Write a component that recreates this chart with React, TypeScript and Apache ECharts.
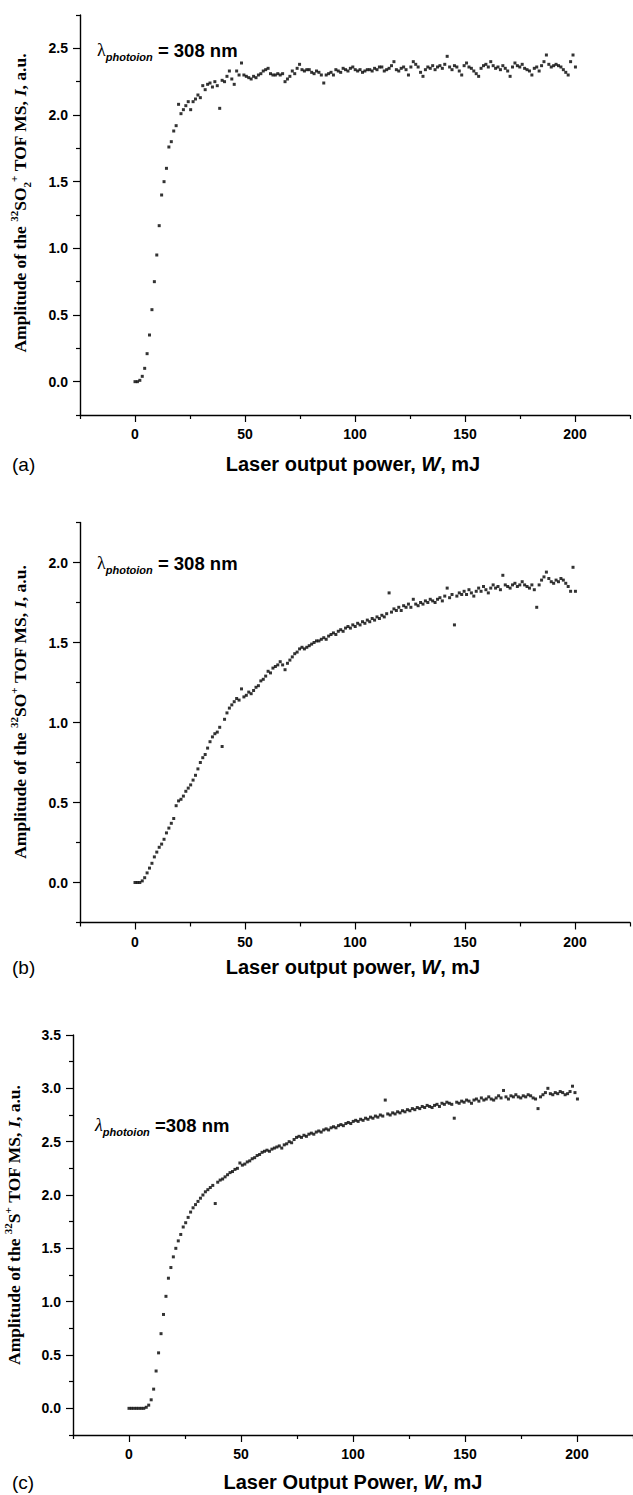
import React, { useEffect, useRef } from "react";
import * as echarts from "echarts";

// Laser output power step between successive measurements (mJ)
const W_STEP = 1.1;

// (a) amplitude of the 32SO2+ TOF MS signal, a.u.
const so2Amp = [
  0.00, 0.00, 0.01, 0.04, 0.10, 0.21, 0.35, 0.54, 0.75, 0.95,
  1.17, 1.40, 1.50, 1.60, 1.76, 1.80, 1.88, 1.92, 2.08, 2.01,
  2.04, 2.07, 2.10, 2.04, 2.10, 2.12, 2.15, 2.13, 2.22, 2.19,
  2.23, 2.24, 2.21, 2.25, 2.22, 2.05, 2.26, 2.25, 2.29, 2.33,
  2.27, 2.23, 2.33, 2.30, 2.39, 2.30, 2.29, 2.28, 2.27, 2.29,
  2.28, 2.30, 2.31, 2.33, 2.34, 2.35, 2.31, 2.30, 2.30, 2.31,
  2.30, 2.31, 2.25, 2.27, 2.29, 2.33, 2.31, 2.35, 2.38, 2.34,
  2.33, 2.34, 2.34, 2.32, 2.31, 2.33, 2.32, 2.30, 2.24, 2.30,
  2.31, 2.32, 2.30, 2.34, 2.33, 2.32, 2.35, 2.34, 2.33, 2.35,
  2.36, 2.34, 2.33, 2.34, 2.32, 2.33, 2.34, 2.34, 2.33, 2.35,
  2.34, 2.36, 2.36, 2.33, 2.34, 2.35, 2.37, 2.40, 2.34, 2.33,
  2.35, 2.36, 2.34, 2.30, 2.36, 2.40, 2.38, 2.36, 2.32, 2.29,
  2.34, 2.36, 2.35, 2.37, 2.34, 2.36, 2.37, 2.35, 2.38, 2.44,
  2.36, 2.34, 2.37, 2.36, 2.33, 2.30, 2.37, 2.39, 2.36, 2.35,
  2.33, 2.31, 2.29, 2.35, 2.37, 2.38, 2.36, 2.40, 2.37, 2.35,
  2.36, 2.34, 2.37, 2.35, 2.33, 2.29, 2.36, 2.39, 2.37, 2.36,
  2.38, 2.35, 2.34, 2.33, 2.30, 2.35, 2.36, 2.33, 2.37, 2.40,
  2.45, 2.38, 2.36, 2.37, 2.38, 2.37, 2.36, 2.34, 2.32, 2.30,
  2.40, 2.45, 2.36,
];

// (b) amplitude of the 32SO+ TOF MS signal, a.u.
const soAmp = [
  0.00, 0.00, 0.00, 0.01, 0.03, 0.06, 0.09, 0.12, 0.16, 0.19,
  0.22, 0.24, 0.27, 0.31, 0.34, 0.37, 0.40, 0.48, 0.51, 0.52,
  0.54, 0.57, 0.59, 0.61, 0.64, 0.67, 0.71, 0.75, 0.78, 0.80,
  0.84, 0.88, 0.91, 0.93, 0.94, 0.97, 0.85, 1.02, 1.06, 1.09,
  1.11, 1.13, 1.15, 1.14, 1.21, 1.16, 1.17, 1.19, 1.18, 1.20,
  1.22, 1.23, 1.26, 1.27, 1.29, 1.32, 1.31, 1.34, 1.35, 1.36,
  1.38, 1.36, 1.33, 1.37, 1.39, 1.41, 1.43, 1.44, 1.46, 1.47,
  1.46, 1.47, 1.48, 1.49, 1.50, 1.51, 1.51, 1.52, 1.53, 1.52,
  1.54, 1.55, 1.56, 1.55, 1.57, 1.58, 1.57, 1.59, 1.60, 1.59,
  1.61, 1.60, 1.62, 1.61, 1.63, 1.62, 1.64, 1.63, 1.65, 1.64,
  1.66, 1.65, 1.67, 1.66, 1.68, 1.81, 1.69, 1.71, 1.70, 1.72,
  1.70, 1.73, 1.72, 1.74, 1.72, 1.77, 1.74, 1.73, 1.75, 1.74,
  1.76, 1.75, 1.77, 1.76, 1.75, 1.77, 1.78, 1.76, 1.79, 1.84,
  1.78, 1.80, 1.61, 1.79, 1.81, 1.80, 1.82, 1.80, 1.83, 1.81,
  1.79, 1.82, 1.84, 1.82, 1.85, 1.83, 1.81, 1.84, 1.86, 1.84,
  1.85, 1.83, 1.92, 1.86, 1.85, 1.84, 1.86, 1.87, 1.85, 1.86,
  1.88, 1.86, 1.85, 1.84, 1.86, 1.83, 1.72, 1.86, 1.89, 1.91,
  1.94, 1.90, 1.88, 1.87, 1.89, 1.88, 1.90, 1.89, 1.87, 1.85,
  1.82, 1.97, 1.82,
];

// (c) amplitude of the 32S+ TOF MS signal, a.u.
const sAmp = [
  0.00, 0.00, 0.00, 0.00, 0.00, 0.00, 0.00, 0.01, 0.03, 0.08,
  0.18, 0.35, 0.52, 0.70, 0.88, 1.05, 1.22, 1.32, 1.42, 1.50,
  1.57, 1.63, 1.70, 1.74, 1.79, 1.84, 1.88, 1.91, 1.94, 1.97,
  2.00, 2.03, 2.05, 2.07, 2.09, 1.92, 2.12, 2.14, 2.15, 2.17,
  2.19, 2.21, 2.22, 2.24, 2.25, 2.30, 2.28, 2.29, 2.31, 2.32,
  2.34, 2.35, 2.37, 2.38, 2.40, 2.41, 2.42, 2.41, 2.43, 2.44,
  2.45, 2.46, 2.44, 2.47, 2.48, 2.50, 2.49, 2.52, 2.54, 2.55,
  2.54, 2.56, 2.55, 2.57, 2.58, 2.57, 2.59, 2.60, 2.59, 2.61,
  2.62, 2.61, 2.63, 2.64, 2.63, 2.65, 2.66, 2.65, 2.67, 2.68,
  2.67, 2.69, 2.70, 2.69, 2.71, 2.70, 2.72, 2.71, 2.73, 2.72,
  2.74, 2.73, 2.75, 2.74, 2.89, 2.76, 2.75, 2.77, 2.76, 2.78,
  2.77, 2.79, 2.78, 2.80, 2.79, 2.81, 2.80, 2.82, 2.81, 2.83,
  2.82, 2.84, 2.83, 2.82, 2.84, 2.85, 2.83, 2.86, 2.85, 2.87,
  2.86, 2.85, 2.72, 2.87, 2.86, 2.88, 2.87, 2.89, 2.88, 2.86,
  2.89, 2.90, 2.88, 2.91, 2.89, 2.90, 2.92, 2.90, 2.89, 2.91,
  2.93, 2.91, 2.98, 2.92, 2.90, 2.93, 2.92, 2.94, 2.92, 2.91,
  2.93, 2.92, 2.94, 2.93, 2.91, 2.90, 2.81, 2.92, 2.94, 2.96,
  3.00, 2.95, 2.94, 2.96, 2.95, 2.97, 2.96, 2.94, 2.95, 2.97,
  3.02, 2.96, 2.90,
];

// Tick positions
const xMajorTicks = [0, 50, 100, 150, 200];
const xMinorTicks = [-25, 25, 75, 125, 175, 225];
const yMajorA = [0, 0.5, 1.0, 1.5, 2.0, 2.5];
const yMinorA = [-0.25, 0.25, 0.75, 1.25, 1.75, 2.25, 2.75];
const yMajorB = [0, 0.5, 1.0, 1.5, 2.0];
const yMinorB = [-0.25, 0.25, 0.75, 1.25, 1.75, 2.25];
const yMajorC = [0, 0.5, 1.0, 1.5, 2.0, 2.5, 3.0, 3.5];
const yMinorC = [-0.25, 0.25, 0.75, 1.25, 1.75, 2.25, 2.75, 3.25];

const SERIF = "'Liberation Serif', 'Times New Roman', Times, serif";
const SANS = "'Liberation Sans', Arial, Helvetica, sans-serif";

const panels = [
  {
    amp: so2Amp, yMin: -0.25, yMax: 2.75, yMajor: yMajorA, yMinor: yMinorA,
    grid: { left: 80, top: 15, width: 550, height: 400 },
    ion: [{ t: "32", k: "sup" }, { t: "SO", k: "b" }, { t: "2", k: "sub" }, { t: "+", k: "sup" }],
    xTitle: "Laser output power, ", tag: "(a)", lambdaItalic: false, lambdaText: " = 308 nm",
    lambdaX: 97, lambdaY: 50, xTitleY: 464, yTitleX: 20, yTitleY: 203,
  },
  {
    amp: soAmp, yMin: -0.25, yMax: 2.25, yMajor: yMajorB, yMinor: yMinorB,
    grid: { left: 80, top: 522.5, width: 550, height: 400 },
    ion: [{ t: "32", k: "sup" }, { t: "SO", k: "b" }, { t: "+", k: "sup" }],
    xTitle: "Laser output power, ", tag: "(b)", lambdaItalic: false, lambdaText: " = 308 nm",
    lambdaX: 97, lambdaY: 563, xTitleY: 967, yTitleX: 20, yTitleY: 712,
  },
  {
    amp: sAmp, yMin: -0.25, yMax: 3.5, yMajor: yMajorC, yMinor: yMinorC,
    grid: { left: 73, top: 1035, width: 562, height: 400 },
    ion: [{ t: "32", k: "sup" }, { t: "S", k: "b" }, { t: "+", k: "sup" }],
    xTitle: "Laser Output Power, ", tag: "(c)", lambdaItalic: true, lambdaText: " =308 nm",
    lambdaX: 95, lambdaY: 1125, xTitleY: 1482, yTitleX: 14, yTitleY: 1225,
  },
];

function buildOption() {
  const grids: any[] = [];
  const xAxes: any[] = [];
  const yAxes: any[] = [];
  const series: any[] = [];
  const graphics: any[] = [];

  const axisLine = { show: true, onZero: false, lineStyle: { color: "#000", width: 1.4 } };
  const labelStyle = { color: "#000", fontFamily: SANS, fontWeight: "bold", fontSize: 14 };

  panels.forEach((p, k) => {
    grids.push({ ...p.grid, containLabel: false });
    xAxes.push({
      type: "value", gridIndex: k, position: "bottom", min: -25, max: 225,
      axisLine,
      axisTick: { show: true, customValues: xMajorTicks, length: 7, lineStyle: { color: "#000", width: 1.2 } },
      axisLabel: { show: true, customValues: xMajorTicks, margin: 12, ...labelStyle, formatter: (v: number) => String(v) },
      splitLine: { show: false },
    });
    xAxes.push({
      type: "value", gridIndex: k, position: "bottom", min: -25, max: 225,
      axisLine: { show: false, onZero: false },
      axisTick: { show: true, customValues: xMinorTicks, length: 4, lineStyle: { color: "#000", width: 1.2 } },
      axisLabel: { show: false },
      splitLine: { show: false },
    });
    yAxes.push({
      type: "value", gridIndex: k, position: "left", min: p.yMin, max: p.yMax,
      axisLine,
      axisTick: { show: true, customValues: p.yMajor, length: 7, lineStyle: { color: "#000", width: 1.2 } },
      axisLabel: { show: true, customValues: p.yMajor, margin: 12, ...labelStyle, formatter: (v: number) => v.toFixed(1) },
      splitLine: { show: false },
    });
    yAxes.push({
      type: "value", gridIndex: k, position: "left", min: p.yMin, max: p.yMax,
      axisLine: { show: false, onZero: false },
      axisTick: { show: true, customValues: p.yMinor, length: 4, lineStyle: { color: "#000", width: 1.2 } },
      axisLabel: { show: false },
      splitLine: { show: false },
    });

    series.push({
      type: "scatter",
      xAxisIndex: 2 * k,
      yAxisIndex: 2 * k,
      symbol: "rect",
      symbolSize: 3,
      itemStyle: { color: "#000" },
      silent: true,
      data: p.amp.map((v, i) => [Number((i * W_STEP).toFixed(2)), v]),
    });

    const ionText = p.ion.map((s) => `{${s.k}|${s.t}}`).join("");
    graphics.push({
      type: "text",
      x: p.yTitleX,
      y: p.yTitleY,
      rotation: Math.PI / 2,
      silent: true,
      style: {
        text: `{b|Amplitude of the }${ionText}{b| TOF MS, }{it|I}{b|, a.u.}`,
        align: "center",
        verticalAlign: "middle",
        rich: {
          b: { fontFamily: SERIF, fontWeight: "bold", fontSize: 17.5, lineHeight: 24, fill: "#000" },
          it: { fontFamily: SERIF, fontWeight: "bold", fontStyle: "italic", fontSize: 17.5, lineHeight: 24, fill: "#000" },
          sup: { fontFamily: SERIF, fontWeight: "bold", fontSize: 11, lineHeight: 11, verticalAlign: "top", fill: "#000" },
          sub: { fontFamily: SERIF, fontWeight: "bold", fontSize: 11, lineHeight: 11, verticalAlign: "bottom", fill: "#000" },
        },
      },
    });

    graphics.push({
      type: "text",
      x: 353,
      y: p.xTitleY,
      silent: true,
      style: {
        text: `{n|${p.xTitle}}{i|W}{n|, mJ}`,
        align: "center",
        verticalAlign: "middle",
        rich: {
          n: { fontFamily: SANS, fontWeight: "bold", fontSize: 20, lineHeight: 24, fill: "#000" },
          i: { fontFamily: SANS, fontWeight: "bold", fontStyle: "italic", fontSize: 20, lineHeight: 24, fill: "#000" },
        },
      },
    });

    graphics.push({
      type: "text",
      x: 12,
      y: p.xTitleY,
      silent: true,
      style: {
        text: p.tag,
        fontFamily: SANS,
        fontSize: 19,
        fill: "#000",
        align: "left",
        verticalAlign: "middle",
      },
    });

    graphics.push({
      type: "text",
      x: p.lambdaX,
      y: p.lambdaY,
      silent: true,
      style: {
        text: `{l|λ}{s|photoion}{n|${p.lambdaText}}`,
        align: "left",
        verticalAlign: "middle",
        rich: {
          l: { fontFamily: SERIF, fontStyle: p.lambdaItalic ? "italic" : "normal", fontSize: 18, lineHeight: 24, fill: "#000" },
          s: { fontFamily: SANS, fontWeight: "bold", fontStyle: "italic", fontSize: 11, lineHeight: 11, verticalAlign: "bottom", fill: "#000" },
          n: { fontFamily: SANS, fontWeight: "bold", fontSize: 18.5, lineHeight: 24, fill: "#000" },
        },
      },
    });
  });

  return {
    animation: false,
    backgroundColor: "#fff",
    grid: grids,
    xAxis: xAxes,
    yAxis: yAxes,
    series,
    graphic: graphics,
  };
}

export default function App() {
  const ref = useRef<HTMLDivElement>(null);
  useEffect(() => {
    if (!ref.current) return;
    const chart = echarts.init(ref.current, undefined, { renderer: "svg" });
    chart.setOption(buildOption() as any);
    return () => chart.dispose();
  }, []);
  return (
    <div
      ref={ref}
      style={{ position: "absolute", left: 0, top: 0, width: 633, height: 1495, background: "#fff" }}
    />
  );
}
